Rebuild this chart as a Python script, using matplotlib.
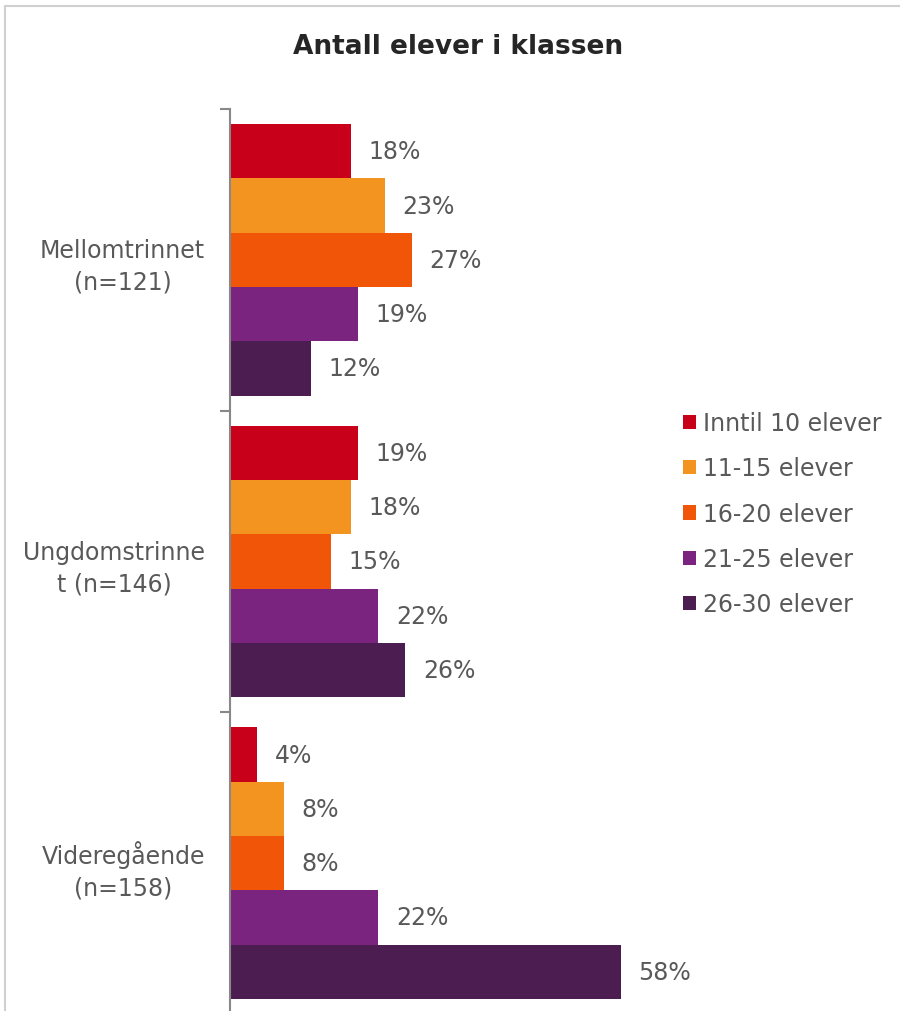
from matplotlib import pyplot as plt
from matplotlib.patches import Patch, Rectangle
import numpy as np

# Data
groups = ['Mellomtrinnet\n(n=121)', 'Ungdomstrinne\nt (n=146)', 'Videregående\n(n=158)']
series = ['Inntil 10 elever', '11-15 elever', '16-20 elever', '21-25 elever', '26-30 elever']
colors = ['#C8001A', '#F39420', '#F05508', '#7A237F', '#4C1D50']
values = [
    [18, 19, 4],
    [23, 18, 8],
    [27, 15, 8],
    [19, 22, 22],
    [12, 26, 58],
]

text_col = '#595959'
fs = 17
plt.rcParams['font.family'] = ['DejaVu Sans']

fig = plt.figure(figsize=(9, 10.12), dpi=100)

# Light border round the chart area
fig.patches.append(Rectangle((5 / 900, -0.1), 2, 1 - 7 / 1012 + 0.1, transform=fig.transFigure,
                             fill=False, edgecolor='#d0d0d0', linewidth=1.5))

ax = fig.add_axes([230 / 900, -3 / 1012, 674 / 900, 905 / 1012])

h = 0.18
y = np.arange(len(groups))
for i in range(len(series)):
    pos = y + (i - 2) * h
    ax.barh(pos, values[i], height=h, color=colors[i], label=series[i])
    for p, v in zip(pos, values[i]):
        ax.text(v + 2.6, p, str(v) + '%', va='center', ha='left', fontsize=fs, color=text_col)

ax.set_xlim(0, 100)
ax.set_ylim(2.5, -0.5)

ax.set_xticks([])
ax.set_yticks(y)
ax.set_yticklabels(groups, fontsize=fs, color=text_col, multialignment='center', linespacing=1.4)
ax.tick_params(axis='y', which='major', length=0, pad=18)
ax.set_yticks([-0.5, 0.5, 1.5, 2.5], minor=True)
ax.tick_params(axis='y', which='minor', length=7, width=1.5, color='#888888', direction='out')

for s in ['top', 'right', 'bottom']:
    ax.spines[s].set_visible(False)
ax.spines['left'].set_color('#888888')
ax.spines['left'].set_linewidth(1.5)

handles = [Patch(facecolor=c, label=s) for c, s in zip(colors, series)]
fig.legend(handles=handles, loc='upper left', bbox_to_anchor=(662 / 900, 1 - 391 / 1012),
           frameon=False, fontsize=fs, labelcolor=text_col, handlelength=0.55, handleheight=0.55,
           handletextpad=0.3, labelspacing=0.9)

fig.text(458 / 900, 1 - 47 / 1012, 'Antall elever i klassen', ha='center', va='center',
         fontsize=19, fontweight='bold', color='#262626')

plt.savefig('out.png', dpi=100)
